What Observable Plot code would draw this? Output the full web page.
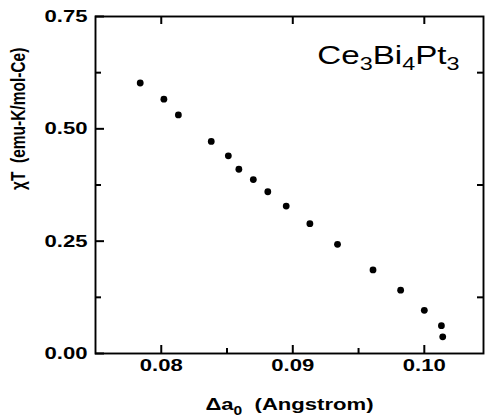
<!DOCTYPE html>
<html>
<head>
<meta charset="utf-8">
<script src="https://cdn.jsdelivr.net/npm/d3@7"></script>
<script src="https://cdn.jsdelivr.net/npm/@observablehq/plot@0.6"></script>
<style>
  html, body { margin: 0; padding: 0; background: #fff; }
  #chart svg { display: block; }
</style>
</head>
<body>
<div id="chart"></div>
<script>
// Data
const deltaA0 = [0.0784, 0.0802, 0.0813, 0.0838, 0.0851, 0.0859, 0.0870, 0.0881, 0.0895, 0.0913, 0.0934, 0.0961, 0.0982, 0.1000, 0.1013, 0.1014];
const chiT    = [0.602, 0.566, 0.531, 0.472, 0.440, 0.410, 0.387, 0.360, 0.328, 0.289, 0.243, 0.186, 0.141, 0.096, 0.062, 0.037];
const xMajorTicks = [0.08, 0.09, 0.10];
const xMinorTicks = [0.085, 0.095];
const yMajorTicks = [0, 0.25, 0.5, 0.75];
const yMinorTicks = [0.125, 0.375, 0.625];
const xTickLabels = ["0.08", "0.09", "0.10"];
const yTickLabels = ["0.00", "0.25", "0.50", "0.75"];
const compound = "Ce3Bi4Pt3";
const xTitle = "Δa0  (Angstrom)";
const yTitle = "χT  (emu-K/mol-Ce)";

const points = deltaA0.map((x, i) => ({x, y: chiT[i]}));
const font = "'Liberation Sans', Arial, Helvetica, sans-serif";

const W = 488, H = 419, ML = 95, MR = 5, MT = 16, MB = 66;
const FW = W - ML - MR, FH = H - MT - MB;

const chart = Plot.plot({
  width: W,
  height: H,
  marginLeft: ML,
  marginRight: MR,
  marginTop: MT,
  marginBottom: MB,
  style: {fontFamily: font, background: "#fff"},
  x: {domain: [0.075, 0.1045]},
  y: {domain: [0, 0.75]},
  marks: [
    // inward ticks (rules shortened with insets)
    Plot.ruleX(xMajorTicks, {x: d => d, insetTop: FH - 8, stroke: "black", strokeWidth: 2}),
    Plot.ruleX(xMinorTicks, {x: d => d, insetTop: FH - 5, stroke: "black", strokeWidth: 2}),
    Plot.ruleX(xMajorTicks, {x: d => d, insetBottom: FH - 8, stroke: "black", strokeWidth: 2}),
    Plot.ruleY(yMajorTicks, {y: d => d, insetRight: FW - 9, stroke: "black", strokeWidth: 2}),
    Plot.ruleY(yMinorTicks, {y: d => d, insetRight: FW - 6, stroke: "black", strokeWidth: 2}),
    Plot.ruleY(yMinorTicks, {y: d => d, insetLeft: FW - 6, stroke: "black", strokeWidth: 2}),
    Plot.frame({stroke: "black", strokeWidth: 1.9}),
    // tick labels
    Plot.axisX(xMajorTicks, {anchor: "bottom", tickSize: 0, tickPadding: 5, tickFormat: (d, i) => xTickLabels[i],
      fontSize: 17, fontWeight: "bold", label: null, className: "stretch"}),
    Plot.axisY(yMajorTicks, {anchor: "left", tickSize: 0, tickPadding: 8, tickFormat: (d, i) => yTickLabels[i],
      fontSize: 17, fontWeight: "bold", label: null, className: "stretch"}),
    // axis titles
    Plot.text([xTitle], {frameAnchor: "bottom", dy: 56, fontSize: 17, fontWeight: "bold", lineAnchor: "bottom", text: d => d, className: "xtitle stretch"}),
    Plot.text([yTitle], {frameAnchor: "left", rotate: -90, dx: -77, dy: 5, fontSize: 15.5, fontWeight: "bold", text: d => d, className: "ytitle"}),
    // compound label
    Plot.text([compound], {frameAnchor: "top-right", dx: -24, dy: 47, textAnchor: "end", lineAnchor: "bottom", fontSize: 25.5, text: d => d, className: "compound stretch"}),
    // data
    Plot.dot(points, {x: "x", y: "y", r: 3.4, fill: "black", stroke: "none"})
  ]
});

document.getElementById("chart").append(chart);

// Turn digits following letters into subscripts using tspans
function subscriptify(selector, subSize, shift) {
  chart.querySelectorAll(selector + " text").forEach(t => {
    const s = t.textContent;
    t.textContent = "";
    const parts = s.match(/(\d+|\D+)/g) || [];
    let prevSub = false;
    const ns = "http://www.w3.org/2000/svg";
    parts.forEach(p => {
      const ts = document.createElementNS(ns, "tspan");
      ts.textContent = p;
      const isSub = /^\d+$/.test(p);
      if (isSub) {
        ts.setAttribute("font-size", subSize);
        ts.setAttribute("dy", shift);
        prevSub = true;
      } else if (prevSub) {
        ts.setAttribute("dy", -shift);
        prevSub = false;
      }
      t.appendChild(ts);
    });
  });
}
subscriptify(".compound", 18, 6);
subscriptify(".xtitle", 12, 5);

// The reference typography is horizontally wide: stretch text about its anchor
const SX = 1.3;
chart.querySelectorAll(".stretch text").forEach(t => {
  const tr = t.getAttribute("transform") || "";
  t.setAttribute("transform", tr + ` scale(${SX},1)`);
});
chart.querySelectorAll(".ytitle text").forEach(t => {
  const tr = t.getAttribute("transform") || "";
  t.setAttribute("transform", tr + ` scale(1,${SX})`);
});
</script>
</body>
</html>
